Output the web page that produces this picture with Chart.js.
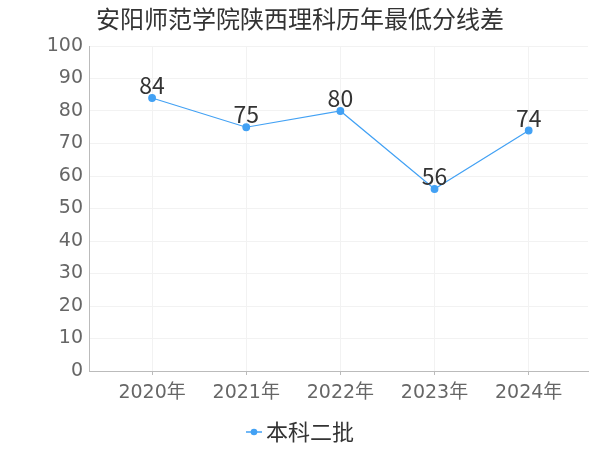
<!DOCTYPE html>
<html>
<head>
<meta charset="utf-8">
<script src="https://cdn.jsdelivr.net/npm/chart.js@4/dist/chart.umd.min.js"></script>
<style>
  html, body { margin: 0; padding: 0; background: #fff; }
  #wrap { width: 600px; height: 450px; }
</style>
</head>
<body>
<div id="wrap"><canvas id="scoreChart"></canvas></div>
<script>
const chartTitle = '安阳师范学院陕西理科历年最低分线差';
const years = ['2020年', '2021年', '2022年', '2023年', '2024年'];
const seriesName = '本科二批';
const scoreGap = [84, 75, 80, 56, 74];
const yTicks = [0, 10, 20, 30, 40, 50, 60, 70, 80, 90, 100];

const CJK = '"Noto Sans CJK SC", "Noto Sans", sans-serif';
const AXIS_FONT = '"DejaVu Sans", "Noto Sans CJK SC", sans-serif';
const BLUE = '#42a1f4';

// legend marker: short line with a dot, drawn in the right part of the image
function legendMarker() {
  const c = document.createElement('canvas');
  c.width = 35; c.height = 8;
  const g = c.getContext('2d');
  g.strokeStyle = BLUE; g.lineWidth = 1.5;
  g.beginPath(); g.moveTo(19, 4); g.lineTo(35, 4); g.stroke();
  g.fillStyle = BLUE;
  g.beginPath(); g.arc(27, 4, 3.3, 0, Math.PI * 2); g.fill();
  return c;
}

// title centred on the whole canvas + value labels above points
const textLayer = {
  id: 'textLayer',
  afterDatasetsDraw(chart) {
    const ctx = chart.ctx;
    ctx.save();
    ctx.fillStyle = '#333';
    ctx.textAlign = 'center';
    ctx.font = '24px ' + CJK;
    ctx.textBaseline = 'middle';
    ctx.fillText(chartTitle, chart.width / 2, 19);

    ctx.font = '23px ' + CJK;
    ctx.textBaseline = 'alphabetic';
    chart.getDatasetMeta(0).data.forEach((pt, i) => {
      ctx.fillText(String(scoreGap[i]), pt.x, pt.y - 4);
    });
    ctx.restore();
  }
};

new Chart(document.getElementById('scoreChart'), {
  type: 'line',
  data: {
    datasets: [{
      label: seriesName,
      data: scoreGap.map((v, i) => ({ x: i, y: v })),
      borderColor: BLUE,
      backgroundColor: BLUE,
      borderWidth: 1.2,
      pointRadius: 3.3,
      pointHoverRadius: 3.3,
      tension: 0
    }]
  },
  options: {
    responsive: true,
    maintainAspectRatio: false,
    animation: false,
    layout: { padding: { top: 46, left: 0, right: 12, bottom: -3 } },
    plugins: {
      title: { display: false },
      legend: {
        position: 'bottom',
        labels: {
          color: '#333',
          font: { family: CJK, size: 22 },
          usePointStyle: true,
          pointStyleWidth: 21,
          padding: 1,
          generateLabels() {
            return [{ text: seriesName, pointStyle: legendMarker(), fontColor: '#333', lineWidth: 0, strokeStyle: 'transparent', fillStyle: 'transparent' }];
          }
        }
      },
      tooltip: { enabled: false }
    },
    scales: {
      x: {
        type: 'linear',
        min: -0.67,
        max: 4.63,
        afterBuildTicks(scale) {
          scale.ticks = years.map((_, i) => ({ value: i }));
        },
        afterFit(scale) {
          scale.height = 49;
        },
        ticks: {
          color: '#666',
          font: { family: AXIS_FONT, size: 19 },
          padding: 7,
          callback: (v) => years[v]
        },
        grid: { color: '#f2f2f2', tickColor: '#bbb', tickLength: 4 },
        border: { color: '#bbb' }
      },
      y: {
        min: 0,
        max: 100,
        afterBuildTicks(scale) {
          scale.ticks = yTicks.map(v => ({ value: v }));
        },
        afterFit(scale) {
          scale.width = 89;
        },
        ticks: {
          color: '#666',
          font: { family: AXIS_FONT, size: 19 },
          padding: 6
        },
        grid: { color: '#f2f2f2', drawTicks: false },
        border: { color: '#bbb' }
      }
    }
  },
  plugins: [textLayer]
});
</script>
</body>
</html>
